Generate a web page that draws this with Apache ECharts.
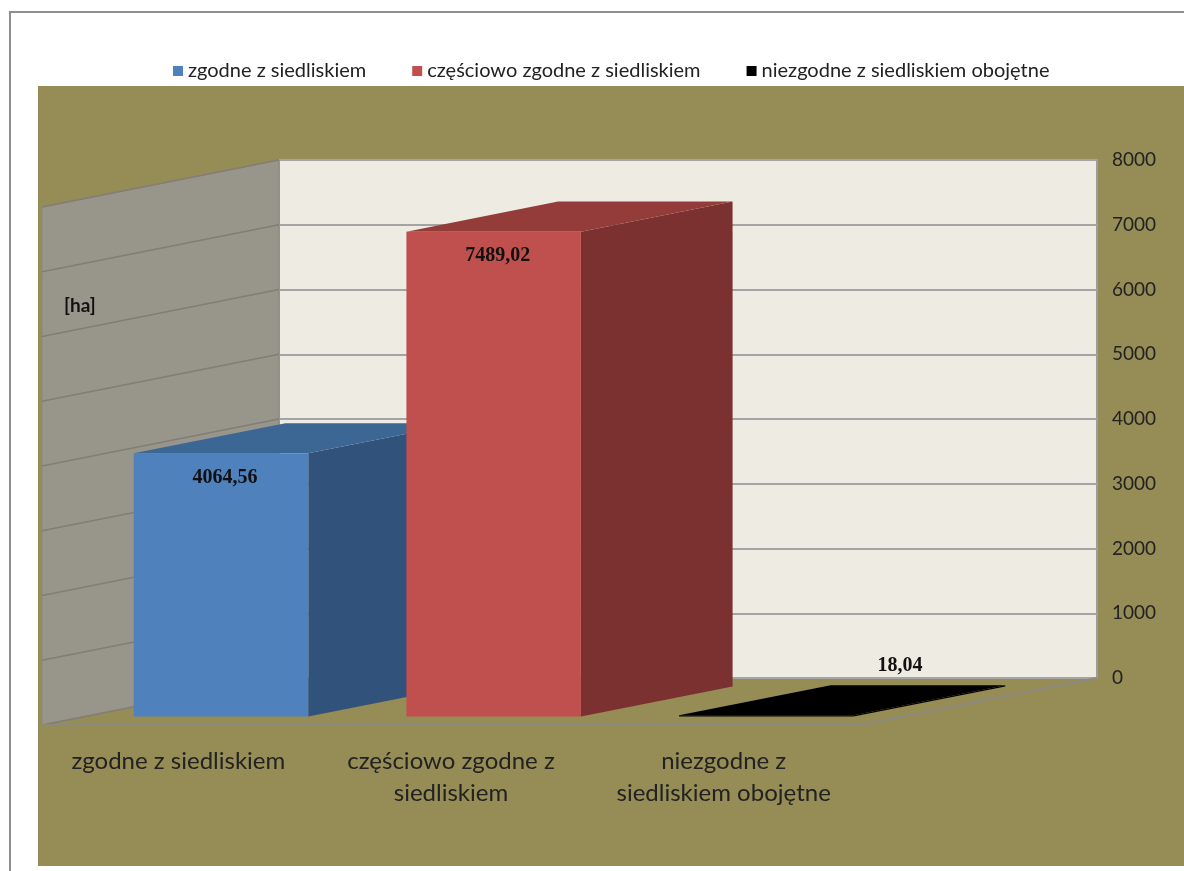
<!DOCTYPE html>
<html>
<head>
<meta charset="utf-8">
<title>Powierzchnia siedlisk</title>
<script src="https://cdn.jsdelivr.net/npm/echarts@6.0.0/dist/echarts.min.js"></script>
<style>
  html, body { margin: 0; padding: 0; background: #ffffff; }
  #chart { width: 1184px; height: 871px; }
</style>
</head>
<body>
<div id="chart"></div>
<script>
// ---- data ----
const categories = ['zgodne z siedliskiem', 'częściowo zgodne z siedliskiem', 'niezgodne z siedliskiem obojętne'];
const axisLabels = ['zgodne z siedliskiem', 'częściowo zgodne z\nsiedliskiem', 'niezgodne z\nsiedliskiem obojętne'];
const areaHa = [4064.56, 7489.02, 18.04];
const yTicks = [0, 1000, 2000, 3000, 4000, 5000, 6000, 7000, 8000];
const unitLabel = '[ha]';

// ---- styling ----
const faceColors = [
  { front: '#4F81BD', top: '#3C6694', side: '#31527A' },
  { front: '#C0504D', top: '#943C3A', side: '#7A3130' },
  { front: '#000000', top: '#000000', side: '#000000' }
];
const FONT = 'Lato, "Open Sans", sans-serif';

// back wall and front plane of the 3D box (pixels)
const BACK = { left: 279, top: 160, width: 818, height: 518 };
const FRONT = { left: 42, top: 207, width: 818, height: 518 };
const DX = BACK.left - FRONT.left;                                   // depth shift to the right
const DY = (FRONT.top + FRONT.height) - (BACK.top + BACK.height);    // depth shift upwards
const Z_FRONT = 0.18, Z_BACK = 0.82, BAR_RATIO = 0.64;
const yMin = yTicks[0], yMax = yTicks[yTicks.length - 1], yStep = yTicks[1] - yTicks[0];

const fmt = v => v.toFixed(2).replace('.', ',');

// side wall, its grid lines and the floor outline
function renderRoom(params, api) {
  const bw = api.size([1, 0])[0];
  const left = api.coord([0, yMin])[0] - bw / 2;
  const right = api.coord([categories.length - 1, yMin])[0] + bw / 2;
  const y0 = api.coord([0, yMin])[1];
  const yTop = api.coord([0, yMax])[1];
  const children = [{
    type: 'polygon',
    shape: { points: [[left, yTop], [left + DX, yTop - DY], [left + DX, y0 - DY], [left, y0]] },
    style: { fill: '#98958B', stroke: '#8A877F', lineWidth: 1 }
  }];
  yTicks.forEach(t => {
    const y = api.coord([0, t])[1];
    children.push({
      type: 'line',
      shape: { x1: left, y1: y, x2: left + DX, y2: y - DY },
      style: { stroke: '#817E76', lineWidth: 1.5 }
    });
  });
  children.push({
    type: 'polyline',
    shape: { points: [[left, y0], [right, y0], [right + DX, y0 - DY]] },
    style: { stroke: '#8C8A80', lineWidth: 2, fill: null }
  });
  return { type: 'group', children };
}

// one 3D column: side face, top face, front face and its value label
function makeBarRenderer(colors) {
  return function (params, api) {
    const ci = api.value(0), v = api.value(1);
    const base = api.coord([ci, yMin]);
    const topPt = api.coord([ci, v]);
    const bw = api.size([1, 0])[0] * BAR_RATIO;
    const fx = Z_FRONT * DX, fy = -Z_FRONT * DY;
    const ddx = (Z_BACK - Z_FRONT) * DX, ddy = -(Z_BACK - Z_FRONT) * DY;
    const x0 = base[0] - bw / 2 + fx, x1 = base[0] + bw / 2 + fx;
    const yb = base[1] + fy, yt = topPt[1] + fy;
    const cx = base[0] + fx;
    const inside = (yb - yt) > 30;
    const lx = inside ? cx + 4 : cx + ddx - 18;
    const ly = inside ? yt + 24 : yt + ddy - 19;
    return {
      type: 'group',
      children: [
        { type: 'polygon', shape: { points: [[x1, yt], [x1 + ddx, yt + ddy], [x1 + ddx, yb + ddy], [x1, yb]] },
          style: { fill: colors.side } },
        { type: 'polygon', shape: { points: [[x0, yt], [x1, yt], [x1 + ddx, yt + ddy], [x0 + ddx, yt + ddy]] },
          style: { fill: colors.top } },
        { type: 'rect', shape: { x: x0, y: yt, width: bw, height: Math.max(yb - yt, 0.5) },
          style: { fill: colors.front } },
        { type: 'text', x: lx, y: ly, z2: 10,
          style: { text: fmt(v), fill: '#111111', font: 'bold 20px "Liberation Serif", serif', align: 'center', verticalAlign: 'middle' } }
      ]
    };
  };
}

const barSeries = categories.map((name, i) => ({
  type: 'custom',
  name,
  xAxisIndex: 1,
  yAxisIndex: 1,
  data: [[i, areaHa[i]]],
  itemStyle: { color: faceColors[i].front },
  renderItem: makeBarRenderer(faceColors[i]),
  z: 3 + i
}));

const chart = echarts.init(document.getElementById('chart'), null, { renderer: 'canvas' });
chart.setOption({
  animation: false,
  backgroundColor: '#ffffff',
  graphic: {
    elements: [
      { type: 'rect', z: -100, shape: { x: 38, y: 86, width: 1146, height: 780 }, style: { fill: '#968C56' } },
      { type: 'polyline', z: -100, shape: { points: [[10, 871], [10, 12], [1184, 12]] }, style: { stroke: '#8E8E8E', lineWidth: 2, fill: null } },
      { type: 'text', z: 50, left: 64, top: 296, style: { text: unitLabel, font: 'bold 19px Lato, sans-serif', fill: '#111111' } }
    ]
  },
  legend: {
    data: categories,
    left: 168,
    top: 56,
    icon: 'rect',
    itemWidth: 10,
    itemHeight: 10,
    itemGap: 46,
    selectedMode: false,
    textStyle: { fontFamily: FONT, fontSize: 20, color: '#222222' }
  },
  grid: [
    { left: BACK.left, top: BACK.top, width: BACK.width, height: BACK.height, show: true,
      backgroundColor: '#EEECE2', borderColor: '#9C9C9C', borderWidth: 2, outerBoundsMode: 'none' },
    { left: FRONT.left, top: FRONT.top, width: FRONT.width, height: FRONT.height, outerBoundsMode: 'none' }
  ],
  xAxis: [
    { gridIndex: 0, type: 'category', data: categories, show: false },
    { gridIndex: 1, type: 'category', data: categories,
      axisLine: { show: false }, axisTick: { show: false }, splitLine: { show: false },
      axisLabel: { interval: 0, margin: 20, fontFamily: FONT, fontSize: 24, lineHeight: 32, color: '#222222',
                   formatter: (val, idx) => axisLabels[idx] } }
  ],
  yAxis: [
    { gridIndex: 0, type: 'value', position: 'right', min: yMin, max: yMax, interval: yStep,
      axisLine: { show: false }, axisTick: { show: false },
      splitLine: { lineStyle: { color: '#A4A4A4', width: 2 } },
      axisLabel: { margin: 15, fontFamily: FONT, fontSize: 19, color: '#222222', formatter: v => String(v) } },
    { gridIndex: 1, type: 'value', min: yMin, max: yMax, interval: yStep, show: false }
  ],
  series: [
    { type: 'custom', name: 'room', xAxisIndex: 1, yAxisIndex: 1, data: [[0, 0]], renderItem: renderRoom, z: 1, silent: true }
  ].concat(barSeries)
});
</script>
</body>
</html>
